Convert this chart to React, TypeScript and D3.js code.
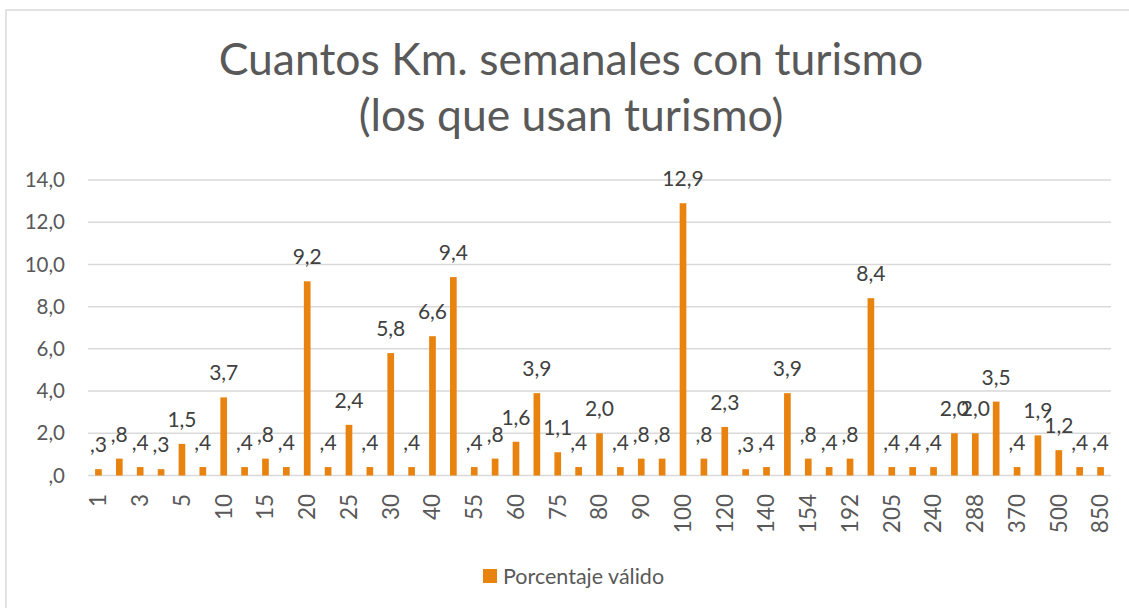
import React from 'react';
import * as d3 from 'd3';

// km semanales (solo se ve una de cada dos etiquetas en el eje)
const categories = [
  '1', '2', '3', '4', '5', '6', '10', '12', '15', '18',
  '20', '24', '25', '28', '30', '35', '40', '50', '55', '56',
  '60', '70', '75', '78', '80', '84', '90', '96', '100', '110',
  '120', '130', '140', '150', '154', '180', '192', '200', '205', '210',
  '240', '250', '288', '300', '370', '400', '500', '600', '850',
];
const values = [
  0.3, 0.8, 0.4, 0.3, 1.5, 0.4, 3.7, 0.4, 0.8, 0.4,
  9.2, 0.4, 2.4, 0.4, 5.8, 0.4, 6.6, 9.4, 0.4, 0.8,
  1.6, 3.9, 1.1, 0.4, 2.0, 0.4, 0.8, 0.8, 12.9, 0.8,
  2.3, 0.3, 0.4, 3.9, 0.8, 0.4, 0.8, 8.4, 0.4, 0.4,
  0.4, 2.0, 2.0, 3.5, 0.4, 1.9, 1.2, 0.4, 0.4,
];
const yTicks = [0, 2, 4, 6, 8, 10, 12, 14];
const titleLines = ['Cuantos Km. semanales con turismo', '(los que usan turismo)'];
const seriesName = 'Porcentaje válido';

const W = 1129;
const H = 608;
const FONT = 'Lato, "Open Sans", sans-serif';
const ORANGE = '#E8830F';

// formato tipo SPSS: ",4" en vez de "0,4"
const fmt = (v: number) => {
  const s = v.toFixed(1).replace('.', ',');
  return s.startsWith('0,') ? s.slice(1) : s;
};

export default function App() {
  const x = d3.scaleBand().domain(categories).range([88, 1111]).paddingInner(0.68).paddingOuter(0.34);
  const y = d3.scaleLinear().domain([0, 14]).range([475.5, 180]);
  const bw = x.bandwidth();

  return (
    <svg width={W} height={H} style={{ position: 'absolute', left: 0, top: 0 }}>
      <rect x={0} y={0} width={W} height={H} fill="white" />
      <rect x={6} y={10} width={W + 20} height={H + 20} fill="none" stroke="#d9d9d9" strokeWidth={1.5} />

      {titleLines.map((t, i) => (
        <text key={t} x={571} y={75 + i * 56} textAnchor="middle" fontFamily={FONT} fontSize={44.5} fill="#595959">
          {t}
        </text>
      ))}

      {yTicks.map(t => (
        <g key={t}>
          <line x1={88} x2={1111} y1={y(t)} y2={y(t)} stroke="#d9d9d9" strokeWidth={1.5} />
          <text x={65} y={y(t)} dy="0.35em" textAnchor="end" fontFamily={FONT} fontSize={20.5} fill="#595959">
            {fmt(t)}
          </text>
        </g>
      ))}

      {categories.map((c, i) => {
        const cx = (x(c) as number) + bw / 2;
        const v = values[i];
        return (
          <g key={c}>
            <rect x={x(c)} y={y(v)} width={bw} height={y(0) - y(v)} fill={ORANGE} />
            <text x={cx} y={y(v) - 17} textAnchor="middle" fontFamily={FONT} fontSize={21} fill="#404040">
              {fmt(v)}
            </text>
            {i % 2 === 0 && (
              <text
                transform={`translate(${cx},494) rotate(-90)`}
                dy="0.35em"
                textAnchor="end"
                fontFamily={FONT}
                fontSize={22.5}
                fill="#595959"
              >
                {c}
              </text>
            )}
          </g>
        );
      })}

      <rect x={483} y={569} width={14} height={14} fill={ORANGE} />
      <text x={503} y={584} fontFamily={FONT} fontSize={21.5} fill="#595959">
        {seriesName}
      </text>
    </svg>
  );
}
